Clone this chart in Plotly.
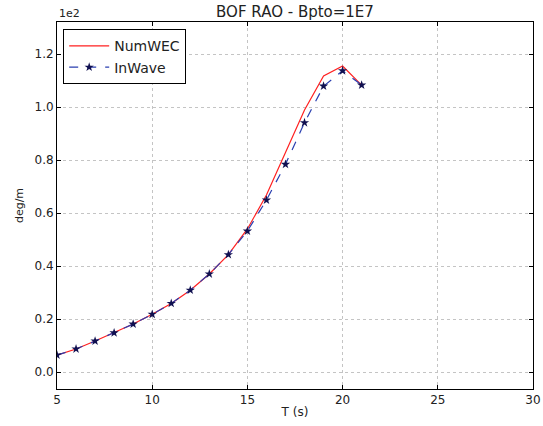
import plotly.graph_objects as go

periods = [5, 6, 7, 8, 9, 10, 11, 12, 13, 14, 15, 16, 17, 18, 19, 20, 21]
numwec = [6.4, 8.7, 11.7, 14.8, 18.1, 21.8, 25.9, 30.9, 37.0, 44.3, 54.0, 66.8, 82.6, 98.9, 111.7, 115.5, 108.3]
inwave = [6.4, 8.7, 11.7, 14.8, 18.1, 21.8, 25.9, 30.9, 37.0, 44.3, 53.2, 64.9, 78.4, 94.1, 107.9, 113.7, 108.3]
y_tickvals = [0, 20, 40, 60, 80, 100, 120]
y_ticktext = ["0.0", "0.2", "0.4", "0.6", "0.8", "1.0", "1.2"]
x_tickvals = [5, 10, 15, 20, 25, 30]

font = "DejaVu Sans"
fig = go.Figure()
fig.add_trace(go.Scatter(x=periods, y=numwec, mode="lines", name="NumWEC",
                         line=dict(color="#ff2020", width=1.2)))
fig.add_trace(go.Scatter(x=periods, y=inwave, mode="lines+markers", name="InWave",
                         line=dict(color="#2a3fb0", width=1.2, dash="dash"),
                         marker=dict(symbol="star", size=7, color="#101050")))

axis_common = dict(showline=True, linecolor="black", linewidth=1, mirror="ticks",
                   ticks="inside", ticklen=4, tickcolor="black", automargin=False,
                   showgrid=True, gridcolor="#c4c4c4", griddash="dot", gridwidth=1,
                   zeroline=False, tickfont=dict(family=font, size=12, color="#222"))
fig.update_xaxes(range=[5, 30], tickvals=x_tickvals,
                 title=dict(text="T (s)", font=dict(family=font, size=12, color="#222"), standoff=1),
                 **axis_common)
fig.update_yaxes(range=[-6.4, 132.1], tickvals=y_tickvals, ticktext=y_ticktext,
                 title=dict(text="deg/m", font=dict(family=font, size=11, color="#222"), standoff=8),
                 **axis_common)

fig.update_layout(
    width=543, height=426,
    margin=dict(l=57, r=10, t=22, b=37, autoexpand=False),
    paper_bgcolor="white", plot_bgcolor="white",
    title=dict(text="BOF RAO - Bpto=1E7", xref="paper", x=0.5, xanchor="center",
               yref="container", y=0.973, yanchor="middle",
               font=dict(family=font, size=15, color="#222")),
    showlegend=True,
    legend=dict(x=0.013, y=0.98, xanchor="left", yanchor="top",
                bgcolor="white", bordercolor="black", borderwidth=1,
                itemwidth=40,
                font=dict(family=font, size=14, color="#222"), tracegroupgap=0),
    annotations=[dict(text="1e2", xref="paper", yref="paper", x=0, y=1.0,
                      xanchor="left", yanchor="bottom", showarrow=False,
                      font=dict(family=font, size=11, color="#222"))],
)
# remove the browser's default 8px body margin so the figure fills the window exactly
fig.write_html("out.html",
               config={"displayModeBar": False},
               post_script="document.body.style.margin='0';document.body.style.overflow='hidden';"
                           "document.documentElement.style.overflow='hidden';")
